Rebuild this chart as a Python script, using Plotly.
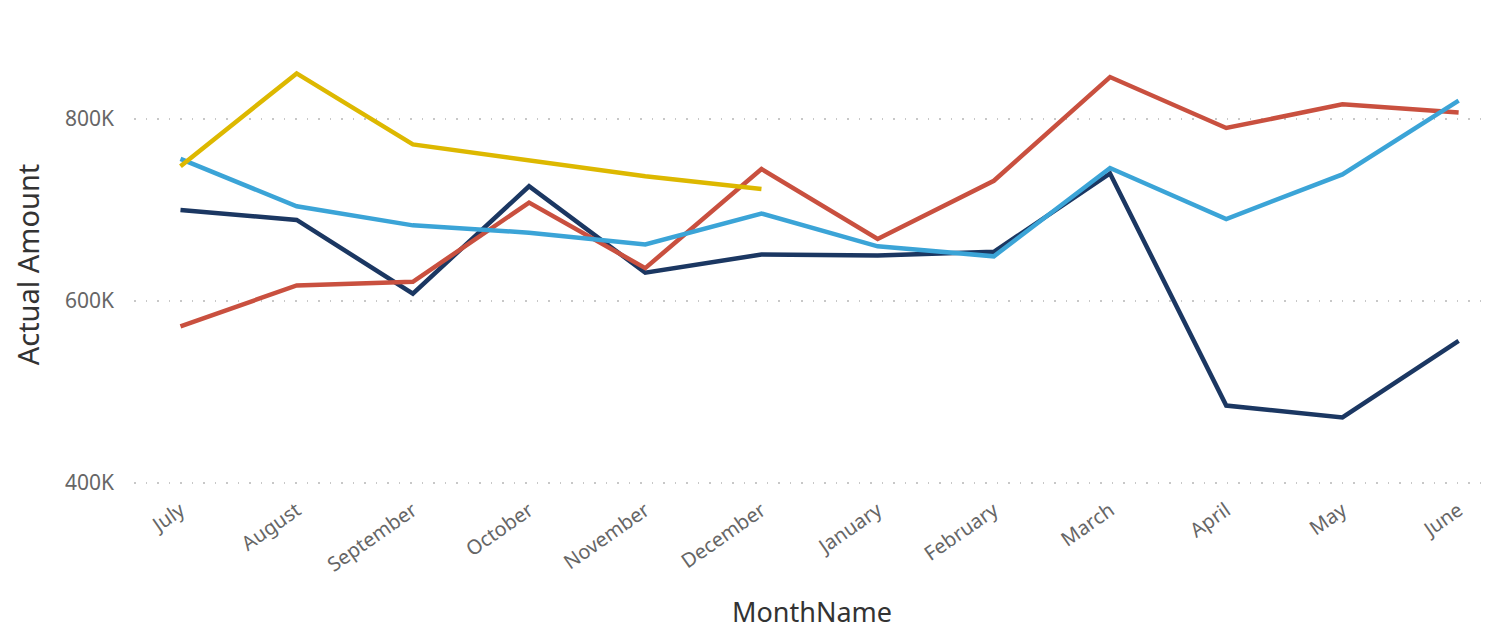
import plotly.graph_objects as go

months = ["July", "August", "September", "October", "November", "December",
          "January", "February", "March", "April", "May", "June"]

# values in thousands
series_yellow = [748, 850, 772, 754, 737, 723, None, None, None, None, None, None]
series_blue = [756, 704, 683, 675, 662, 696, 660, 649, 746, 690, 739, 820]
series_navy = [700, 689, 608, 726, 631, 651, 650, 654, 740, 485, 472, 556]
series_red = [572, 617, 621, 708, 636, 745, 668, 732, 846, 790, 816, 807]

y_ticks = [400, 600, 800]
y_tick_labels = ["400K", "600K", "800K"]

colors = {"navy": "#1B3762", "red": "#C9503F", "yellow": "#DDB800", "blue": "#3BA4D7"}

fig = go.Figure()
for name, vals, col in [("navy", series_navy, colors["navy"]),
                        ("red", series_red, colors["red"]),
                        ("blue", series_blue, colors["blue"]),
                        ("yellow", series_yellow, colors["yellow"])]:
    fig.add_trace(go.Scatter(
        x=months, y=[v * 1000 if v is not None else None for v in vals],
        mode="lines", name=name, line=dict(color=col, width=4.5),
        connectgaps=False, showlegend=False))

font_family = "Segoe UI, Noto Sans, Open Sans, sans-serif"

fig.update_layout(
    width=1486, height=622,
    margin=dict(l=126, r=4, t=29, b=138),
    plot_bgcolor="white", paper_bgcolor="white",
    font=dict(family=font_family),
    xaxis=dict(
        type="category", categoryorder="array", categoryarray=months,
        range=[-0.4, 11.27], showgrid=False, showline=False, zeroline=False,
        automargin=True,
        tickangle=-35, tickfont=dict(size=20, color="#666666"), ticks="",
        ticklabelstandoff=2,
        title=dict(text="MonthName", font=dict(size=27, color="#333333"), standoff=28),
    ),
    yaxis=dict(
        range=[390000, 890000],
        tickvals=[v * 1000 for v in y_ticks], ticktext=y_tick_labels,
        showgrid=True, gridcolor="#C8C8C8", gridwidth=1.5, griddash="1.5px,10px",
        zeroline=False, showline=False, ticks="", automargin=False,
        tickfont=dict(size=21, color="#666666"), ticklabelstandoff=19,
        title=dict(text="Actual Amount", font=dict(size=29, color="#333333"), standoff=20),
    ),
)

fig.write_html("out.html")
